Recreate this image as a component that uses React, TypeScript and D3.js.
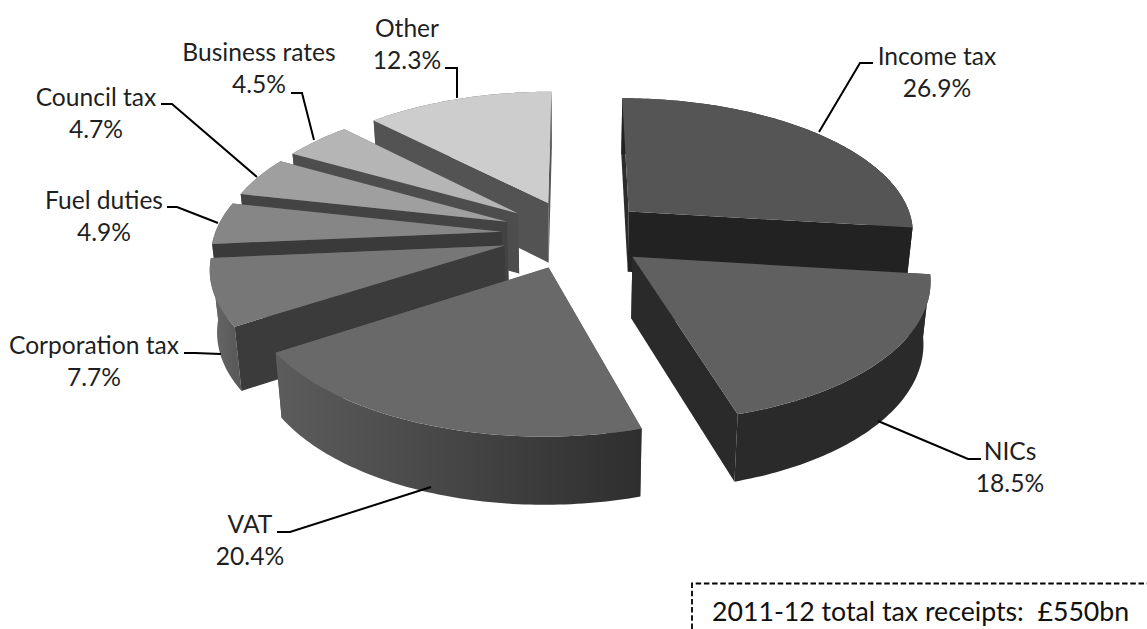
import React from "react";
import * as d3 from "d3";

// ---- data ----
const categories = ["Income tax", "NICs", "VAT", "Corporation tax", "Fuel duties", "Council tax", "Business rates", "Other"];
const shares = [26.9, 18.5, 20.4, 7.7, 4.9, 4.7, 4.5, 12.3];
const shareLabels = ["26.9%", "18.5%", "20.4%", "7.7%", "4.9%", "4.7%", "4.5%", "12.3%"];
const note = "2011-12 total tax receipts:  £550bn";

// ---- styling per slice (same order as categories) ----
const topColors = ["#555555", "#606060", "#696969", "#777777", "#868686", "#9f9f9f", "#b5b5b5", "#cdcdcd"];
const wallColors = ["#222222", "#2a2a2a", "#3c3c3c", "#3b3b3b", "#3a3a3a", "#434343", "#4d4d4d", "#535353"];
const backWallColors = ["#2c2c2c", "#2a2a2a", "#555555", "#555555", "#555555", "#555555", "#555555", "#555555"];
const rimFrom = ["#222222", "#2a2a2a", "#2e2e2e", "#5a5a5a", "#666666", "#666666", "#666666", "#666666"];
const rimTo = ["#222222", "#2a2a2a", "#5c5c5c", "#686868", "#666666", "#666666", "#666666", "#666666"];
const paintOrder = [7, 6, 5, 4, 3, 0, 1, 2];

// ---- layout ----
const W = 1147, H = 629;
const cx = 575, cy = 234;
const explodeBy = 0.256;
const radiusX = 287, tiltY = 135, perspective = 0.14, lowerShrink = 0.98;
const depthScale = d3.scaleLinear().domain([210, 430]).range([60, 68]);

const labelLayout = [
  { x: 937, y1: 65, y2: 97 },
  { x: 1010, y1: 460, y2: 492 },
  { x: 250, y1: 533, y2: 565 },
  { x: 94, y1: 354, y2: 386 },
  { x: 104, y1: 209, y2: 241 },
  { x: 96, y1: 106, y2: 138 },
  { x: 259, y1: 61, y2: 93 },
  { x: 407, y1: 37, y2: 69 },
];
const leaders: [number, number][][] = [
  [[819, 132], [860, 63], [873, 63]],
  [[878, 421], [968, 459], [981, 459]],
  [[431, 487], [290, 532], [277, 532]],
  [[221, 354], [195, 353], [184, 353]],
  [[218, 223], [177, 207], [167, 207]],
  [[257, 177], [172, 104], [161, 104]],
  [[314, 140], [302, 93], [291, 93]],
  [[457, 98], [457, 68], [445, 68]],
];

type P = [number, number];
const lineGen = d3.line<P>();

function project(X: number, Z: number): P {
  const s = 1 / (1 + perspective * Z);
  return [cx + radiusX * X * s, cy - tiltY * Z * s];
}
const drop = (p: P): P => [cx + (p[0] - cx) * lowerShrink, p[1] + depthScale(p[1])];

export default function App() {
  const arcs = d3.pie<number>().sort(null).value((d) => d).startAngle(0).endAngle(2 * Math.PI)(shares);

  const slices = arcs.map((a, i) => {
    const mid = (a.startAngle + a.endAngle) / 2;
    const ax = explodeBy * Math.sin(mid);
    const az = explodeBy * Math.cos(mid);
    const apex = project(ax, az);
    const n = Math.max(12, Math.round(((a.endAngle - a.startAngle) * 180) / Math.PI));
    const thetas = d3.range(n + 1).map((k) => a.startAngle + ((a.endAngle - a.startAngle) * k) / n);
    const rim: P[] = thetas.map((t) => project(ax + Math.sin(t), az + Math.cos(t)));
    const lower = rim.map(drop);
    return {
      i,
      top: lineGen([apex, ...rim])! + "Z",
      startWall: lineGen([apex, rim[0], lower[0], drop(apex)])! + "Z",
      endWall: lineGen([apex, rim[n], lower[n], drop(apex)])! + "Z",
      startFront: Math.sin(a.startAngle) < -1e-6,
      endFront: Math.sin(a.endAngle) > 1e-6,
      rimPath: lineGen([...rim, ...lower.slice().reverse()])! + "Z",
      gx1: rim[0][0],
      gx2: rim[n][0],
    };
  });

  const font = "Lato, 'Open Sans', sans-serif";

  return (
    <svg width={W} height={H} viewBox={`0 0 ${W} ${H}`} style={{ position: "fixed", left: 0, top: 0, background: "#fff" }}>
      <defs>
        {slices.map((s) => (
          <linearGradient key={s.i} id={`rim${s.i}`} gradientUnits="userSpaceOnUse" x1={s.gx1} x2={s.gx2} y1={0} y2={0}>
            <stop offset="0" stopColor={rimFrom[s.i]} />
            <stop offset="1" stopColor={rimTo[s.i]} />
          </linearGradient>
        ))}
      </defs>
      {paintOrder.map((idx) => {
        const s = slices[idx];
        const back = backWallColors[idx];
        const front = wallColors[idx];
        return (
          <g key={idx}>
            {!s.startFront && <path d={s.startWall} fill={back} />}
            {!s.endFront && <path d={s.endWall} fill={back} />}
            <path d={s.rimPath} fill={`url(#rim${idx})`} />
            {s.startFront && <path d={s.startWall} fill={front} />}
            {s.endFront && <path d={s.endWall} fill={front} />}
            <path d={s.top} fill={topColors[idx]} />
          </g>
        );
      })}

      {leaders.map((pts, i) => (
        <path key={i} d={lineGen(pts)!} fill="none" stroke="#000" strokeWidth={2} />
      ))}

      {categories.map((c, i) => (
        <text key={c} fontFamily={font} fontSize={24.6} fill="#1f1f1f" textAnchor="middle">
          <tspan x={labelLayout[i].x} y={labelLayout[i].y1}>{c}</tspan>
          <tspan x={labelLayout[i].x} y={labelLayout[i].y2}>{shareLabels[i]}</tspan>
        </text>
      ))}

      <path d={`M692 ${H}V583.5H${W}`} fill="none" stroke="#000" strokeWidth={1.8} strokeDasharray="5.5 2.7" />
      <text x={712} y={620.5} fontFamily={font} fontSize={26.7} fill="#111" style={{ whiteSpace: "pre" }}>{note}</text>
    </svg>
  );
}
